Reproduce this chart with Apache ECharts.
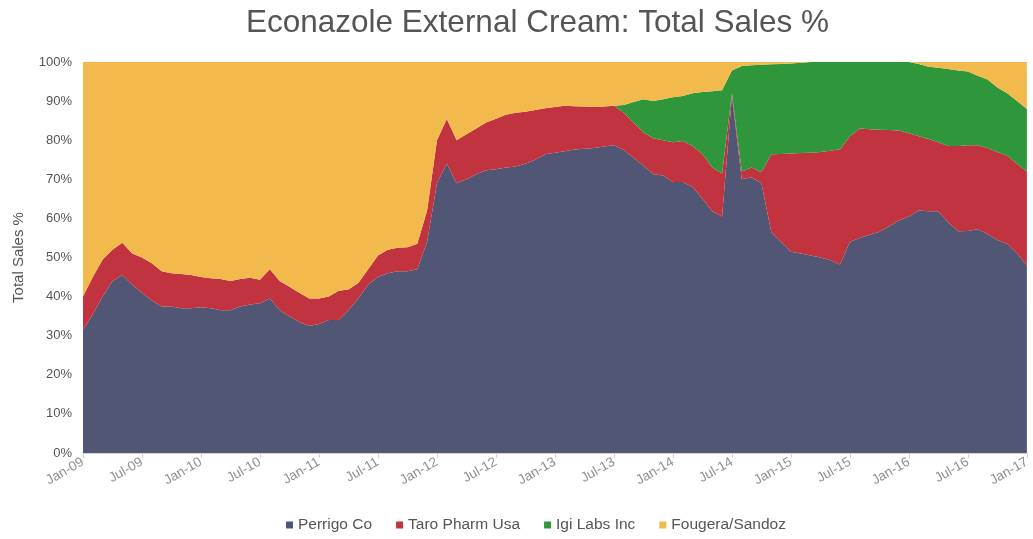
<!DOCTYPE html>
<html>
<head>
    <meta charset="UTF-8">
    <title>Econazole External Cream</title>
    <script src="https://cdn.jsdelivr.net/npm/echarts@6/dist/echarts.min.js"></script>
    <style>
        html, body { margin: 0; padding: 0; background: #fff; }
        #container { width: 1033px; height: 539px; }
    </style>
</head>
<body>
<div id="container"></div>
<script>
    // months Jan-09 .. Jan-17
    var monthNames = ['Jan','Feb','Mar','Apr','May','Jun','Jul','Aug','Sep','Oct','Nov','Dec'];
    var months = [];
    for (var y = 9; y <= 17; y++) {
        for (var mo = 0; mo < 12; mo++) {
            if (y == 17 && mo > 0) break;
            months.push(monthNames[mo] + '-' + (y < 10 ? '0' + y : y));
        }
    }

    // share of total sales, %
    var perrigo = [31.5,35.5,40,44,45.5,43,41,39,37.5,37.5,37,37,
        37.3,37,36.5,36.5,37.5,38,38.3,39.5,36.5,35,33.5,32.5,
        33,34,34,36.5,39.5,43,45,46,46.5,46.5,47,54,
        69,74,69,70,71.3,72.3,72.6,73,73.3,74,75,76.4,
        76.8,77.2,77.6,77.8,78,78.4,78.7,77.5,75.5,73.5,71.3,71,
        69.3,69.3,68,65,61.8,60.5,91.3,70,70.5,69,56.5,54,
        51.5,51,50.5,50,49.3,48.2,54,55,55.8,56.6,58,59.5,
        60.5,62,61.8,61.8,59,56.7,56.8,57.2,56,54.5,53.5,51,
        48];
    var taro = [8.5,9.5,9.5,8,8.3,8,9,9.5,9,8.5,8.8,8.5,
        7.7,7.7,8,7.5,7,6.8,6,7.5,7.5,7.5,7.5,7,
        6.5,6,7.5,5.3,4,4,5.5,6,6,6.1,6.5,8,
        11,11.4,11,11.5,11.7,12.2,12.9,13.5,13.7,13.3,12.7,11.8,
        11.7,11.6,11.1,10.8,10.5,10.2,10.1,9.5,9,8.5,9.2,9,
        10.2,10.5,10.5,11.5,11.2,11,0.7,2,2.5,2.8,19.9,22.5,
        25.1,25.7,26.3,27,28,29.5,27,28,27,26.1,24.6,23,
        21.3,19,18.5,17.7,19.5,21.8,21.9,21.5,22,22.5,22.5,23,
        24];
    var igi = [0,0,0,0,0,0,0,0,0,0,0,0,
        0,0,0,0,0,0,0,0,0,0,0,0,
        0,0,0,0,0,0,0,0,0,0,0,0,
        0,0,0,0,0,0,0,0,0,0,0,0,
        0,0,0,0,0,0,0,2,5.3,8.5,9.5,10.5,
        11.5,11.5,13.5,15.8,19.5,21.3,5.8,27,26.2,27.5,23,23,
        23,23.1,23.2,23,22.7,22.3,19,17,17.2,17.3,17.4,17.5,
        18.2,18.5,18.5,19,19.7,19.3,18.9,17.8,17.5,16.5,16,16,
        16];
    var fougera = [60,55,50.5,48,46.2,49,50,51.5,53.5,54,54.2,54.5,
        55,55.3,55.5,56,55.5,55.2,55.7,53,56,57.5,59,60.5,
        60.5,60,58.5,58.2,56.5,53,49.5,48,47.5,47.4,46.5,38,
        20,14.6,20,18.5,17,15.5,14.5,13.5,13,12.7,12.3,11.8,
        11.5,11.2,11.3,11.4,11.5,11.4,11.2,11,10.2,9.5,10,9.5,
        9,8.7,8,7.7,7.5,7.2,2.2,1,0.8,0.7,0.6,0.5,
        0.4,0.2,0,0,0,0,0,0,0,0,0,0,
        0,0.5,1.2,1.5,1.8,2.2,2.4,3.5,4.5,6.5,8,10,
        12];

    var seriesNames = ['Perrigo Co', 'Taro Pharm Usa', 'Igi Labs Inc', 'Fougera/Sandoz'];
    var seriesData = [perrigo, taro, igi, fougera];
    var colors = ['#525675', '#c1343f', '#2f963b', '#f2b94d'];

    var series = [];
    for (var i = 0; i < seriesNames.length; i++) {
        series.push({
            name: seriesNames[i],
            type: 'line',
            stack: 'total',
            data: seriesData[i],
            showSymbol: false,
            symbol: 'none',
            lineStyle: { width: 0 },
            areaStyle: { color: colors[i], opacity: 1 },
            itemStyle: { color: colors[i] }
        });
    }

    var chart = echarts.init(document.getElementById('container'), null, { renderer: 'canvas' });
    var option = {
        animation: false,
        color: colors,
        title: {
            text: 'Econazole External Cream: Total Sales %',
            left: 241,
            top: 2,
            textStyle: {
                fontFamily: 'Liberation Sans, Arial, sans-serif',
                fontSize: 31.5,
                fontWeight: 'normal',
                color: '#555555'
            }
        },
        legend: {
            bottom: 1,
            left: 281,
            itemWidth: 7,
            itemHeight: 7,
            itemGap: 24,
            icon: 'rect',
            textStyle: {
                fontFamily: 'Liberation Sans, Arial, sans-serif',
                fontSize: 15.5,
                color: '#555555'
            },
            data: seriesNames
        },
        grid: { left: 83, right: 3, top: 62, bottom: 86, containLabel: false },
        xAxis: {
            type: 'category',
            boundaryGap: false,
            data: months,
            axisLine: { lineStyle: { color: '#d0d3da' } },
            axisTick: { show: true, interval: 5, length: 5, lineStyle: { color: '#d0d3da' } },
            axisLabel: {
                interval: 5,
                rotate: 30,
                margin: 8,
                fontFamily: 'Liberation Sans, Arial, sans-serif',
                fontSize: 13.5,
                color: '#8f8f8f'
            }
        },
        yAxis: {
            type: 'value',
            min: 0,
            max: 100,
            interval: 10,
            name: 'Total Sales %',
            nameLocation: 'middle',
            nameGap: 57,
            nameTextStyle: {
                fontFamily: 'Liberation Sans, Arial, sans-serif',
                fontSize: 15,
                color: '#555555'
            },
            axisLine: { show: false },
            axisTick: { show: false },
            splitLine: { show: false },
            axisLabel: {
                formatter: '{value}%',
                margin: 11,
                fontFamily: 'Liberation Sans, Arial, sans-serif',
                fontSize: 13,
                color: '#555555'
            }
        },
        series: series
    };
    chart.setOption(option);
</script>
</body>
</html>
